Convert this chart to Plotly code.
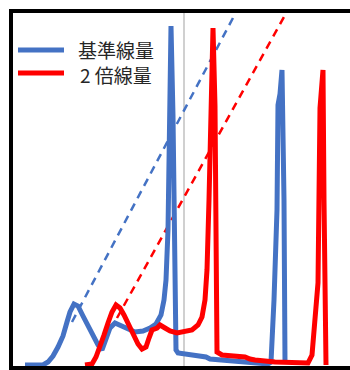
import plotly.graph_objects as go

# Spectrum data: channel (x) vs counts (y)
base_x = [12, 30, 35, 40, 45, 50, 54, 57, 61, 65, 70, 75, 80, 85, 89, 93, 97, 102, 107,
          114, 122, 130, 137, 143, 148, 151, 153, 155, 156, 157, 158, 160, 161, 162, 163,
          165, 172, 187, 193, 197, 207, 222, 239, 255, 258, 261, 264, 265, 267, 269, 271, 272]
base_y = [1, 1, 4, 10, 19, 30, 44, 54, 62, 60, 50, 40, 30, 21, 16, 28, 38, 43, 41,
          37, 34, 35, 38, 42, 51, 66, 86, 136, 216, 290, 340, 250, 150, 66, 16,
          13, 12, 10, 9, 7, 6, 5, 4, 2, 4, 66, 156, 261, 272, 296, 166, 3]

double_x = [72, 79, 83, 87, 91, 95, 99, 103, 107, 111, 115, 120, 125, 129, 133, 136, 139,
            144, 147, 152, 157, 164, 172, 179, 185, 189, 192, 194, 196, 198, 200, 202, 203,
            204, 209, 232, 237, 242, 262, 295, 299, 302, 305, 307, 308, 310, 311, 313]
double_y = [1, 2, 9, 19, 31, 43, 54, 61, 58, 51, 42, 31, 22, 17, 19, 28, 36,
            38, 41, 38, 35, 33, 34, 36, 41, 49, 66, 96, 166, 266, 338, 260, 166,
            14, 11, 9, 7, 6, 4, 3, 11, 46, 83, 258, 272, 296, 166, 1]

# Linear trend lines
base_fit_x = [59, 221]
base_fit_y = [44, 350]
double_fit_x = [104, 271]
double_fit_y = [48, 349]

marker_x = [171, 171]
marker_y = [0, 353]

names = ["基準線量", "2 倍線量"]
BLUE = "#4472C4"
RED = "#FF0000"

fig = go.Figure()
fig.add_trace(go.Scatter(x=marker_x, y=marker_y, mode="lines",
                         line=dict(color="#D0D0D0", width=2), showlegend=False))
fig.add_trace(go.Scatter(x=base_fit_x, y=base_fit_y, mode="lines",
                         line=dict(color=BLUE, width=2.5, dash="8px,6px"), showlegend=False))
fig.add_trace(go.Scatter(x=double_fit_x, y=double_fit_y, mode="lines",
                         line=dict(color=RED, width=2.5, dash="8px,6px"), showlegend=False))
fig.add_trace(go.Scatter(x=base_x, y=base_y, mode="lines", name=names[0],
                         line=dict(color=BLUE, width=5), showlegend=False))
fig.add_trace(go.Scatter(x=double_x, y=double_y, mode="lines", name=names[1],
                         line=dict(color=RED, width=5), showlegend=False))

L, T, B = 13, 13, 4
W, H = 350, 370
pw, ph = W - L, H - T - B


def px(xp):
    return (xp - L) / pw


def py(yp):
    return (H - B - yp) / ph


# Legend drawn as line samples with labels
legend_rows = [(50, 49, BLUE, names[0], 77), (73, 74, RED, names[1], 79)]
shapes = []
annotations = []
for yl, yt, col, label, tx in legend_rows:
    shapes.append(dict(type="line", xref="paper", yref="paper",
                       x0=px(18), x1=px(64), y0=py(yl), y1=py(yl),
                       line=dict(color=col, width=5)))
    annotations.append(dict(xref="paper", yref="paper", x=px(tx), y=py(yt),
                            xanchor="left", yanchor="middle", showarrow=False,
                            text=label, borderpad=0,
                            font=dict(family="Noto Sans CJK JP", size=19, color="#262626")))

fig.update_layout(
    width=W, height=H,
    margin=dict(l=L, r=0, t=T, b=B),
    paper_bgcolor="white", plot_bgcolor="white",
    shapes=shapes, annotations=annotations,
    xaxis=dict(range=[0, pw], showgrid=False, zeroline=False, showticklabels=False,
               ticks="", showline=True, linecolor="black", linewidth=4, mirror=True),
    yaxis=dict(range=[0, ph], showgrid=False, zeroline=False, showticklabels=False,
               ticks="", showline=True, linecolor="black", linewidth=4),
)

fig.write_html("out.html")
